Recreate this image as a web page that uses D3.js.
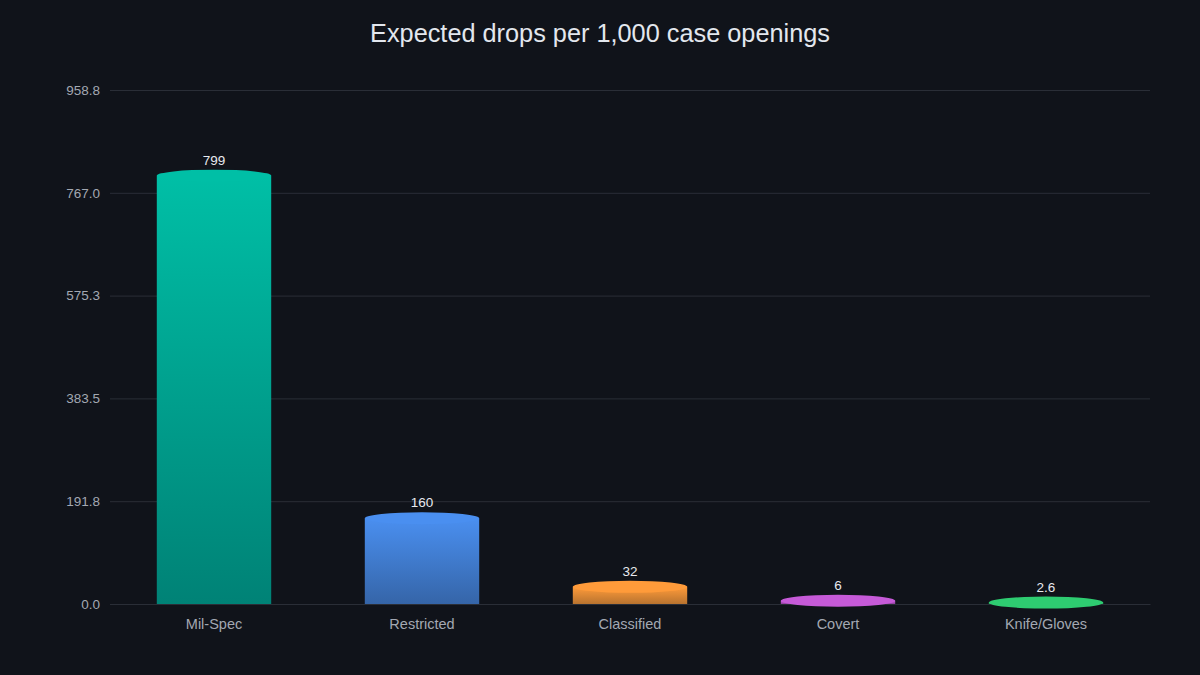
<!DOCTYPE html>
<html>
<head>
<meta charset="utf-8">
<script src="https://cdn.jsdelivr.net/npm/d3@7"></script>
<style>
  html, body { margin: 0; padding: 0; background: #10131a; }
  svg { display: block; font-family: "Liberation Sans", Arial, sans-serif; }
</style>
</head>
<body>
<svg id="chart" width="1200" height="675"></svg>
<script>
const categories = ['Mil-Spec', 'Restricted', 'Classified', 'Covert', 'Knife/Gloves'];
const values = [799, 160, 32, 6, 2.6];
const labels = ['799', '160', '32', '6', '2.6'];
const topColors = ['#00bfa6', '#4a8ff0', '#ff9b3a', '#c65ad8', '#2ecc71'];
const bottomColors = ['#008276', '#3565a8', '#b8732f', '#8e3f9c', '#1f8f50'];

const width = 1200;
const height = 675;
const margin = { top: 90, right: 50, bottom: 71, left: 110 };

const svg = d3.select('#chart');

const yMax = d3.max(values) * 1.2;
const yTicks = d3.range(6).map((i) => yMax * i / 5);

const x = d3.scaleBand()
  .domain(categories)
  .range([margin.left, width - margin.right])
  .paddingInner(0.45)
  .paddingOuter(0.225);

const y = d3.scaleLinear()
  .domain([0, yMax])
  .range([height - margin.bottom, margin.top]);

// gradients
const defs = svg.append('defs');
categories.forEach((c, i) => {
  const g = defs.append('linearGradient')
    .attr('id', 'grad' + i)
    .attr('x1', 0).attr('y1', 0).attr('x2', 0).attr('y2', 1);
  g.append('stop').attr('offset', '0%').attr('stop-color', topColors[i]);
  g.append('stop').attr('offset', '100%').attr('stop-color', bottomColors[i]);
});

// title
svg.append('text')
  .attr('x', width / 2)
  .attr('y', 42)
  .attr('text-anchor', 'middle')
  .attr('fill', '#e3e7ee')
  .style('font-size', '25.3px')
  .text('Expected drops per 1,000 case openings');

// y axis + grid
const yAxis = svg.append('g')
  .attr('transform', `translate(${margin.left},0)`)
  .call(d3.axisLeft(y)
    .tickValues(yTicks)
    .tickSize(-(width - margin.left - margin.right))
    .tickPadding(10)
    .tickFormat(d3.format('.1f')));
yAxis.select('.domain').remove();
yAxis.selectAll('.tick line').attr('stroke', '#2a2e37').attr('stroke-width', 1);
yAxis.selectAll('.tick text')
  .attr('fill', '#a3a8b2')
  .style('font-size', '13.5px');

// x axis
const xAxis = svg.append('g')
  .attr('transform', `translate(0,${height - margin.bottom})`)
  .call(d3.axisBottom(x).tickSize(0).tickPadding(15));
xAxis.select('.domain').attr('stroke', '#2a2e37');
xAxis.selectAll('.tick text')
  .attr('fill', '#a3a8b2')
  .style('font-size', '14.5px');

// bars
const bars = svg.append('g')
  .selectAll('g')
  .data(categories)
  .enter()
  .append('g');

bars.append('rect')
  .attr('x', (d) => x(d))
  .attr('y', (d, i) => y(values[i]))
  .attr('width', x.bandwidth())
  .attr('height', (d, i) => y(0) - y(values[i]))
  .attr('fill', (d, i) => `url(#grad${i})`);

bars.append('ellipse')
  .attr('cx', (d) => x(d) + x.bandwidth() / 2)
  .attr('cy', (d, i) => y(values[i]))
  .attr('rx', x.bandwidth() / 2)
  .attr('ry', 6)
  .attr('fill', (d, i) => topColors[i]);

bars.append('text')
  .attr('x', (d) => x(d) + x.bandwidth() / 2)
  .attr('y', (d, i) => y(values[i]) - 11)
  .attr('text-anchor', 'middle')
  .attr('fill', '#e8eaef')
  .style('font-size', '13.5px')
  .text((d, i) => labels[i]);
</script>
</body>
</html>
